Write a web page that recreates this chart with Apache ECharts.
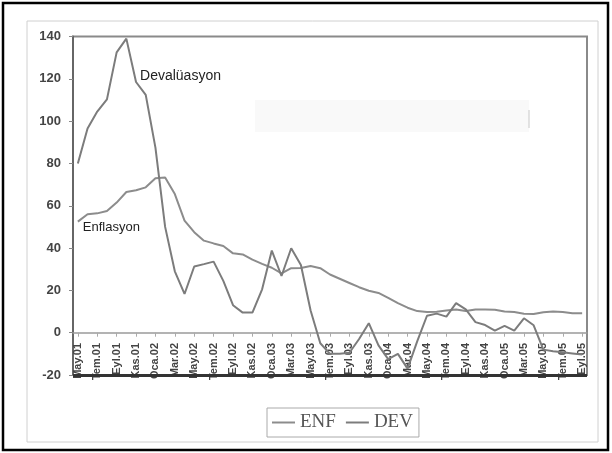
<!DOCTYPE html>
<html>
<head>
<meta charset="utf-8">
<script src="https://cdn.jsdelivr.net/npm/echarts@6/dist/echarts.min.js"></script>
<style>
html,body{margin:0;padding:0;background:#fff;}
#chart{width:612px;height:453px;}
</style>
</head>
<body>
<div id="chart"></div>
<script>
// Categories: monthly, May 2001 .. Eylül 2005
var months = [
 'May.01','Haz.01','Tem.01','Ağu.01','Eyl.01','Eki.01','Kas.01','Ara.01',
 'Oca.02','Şub.02','Mar.02','Nis.02','May.02','Haz.02','Tem.02','Ağu.02','Eyl.02','Eki.02','Kas.02','Ara.02',
 'Oca.03','Şub.03','Mar.03','Nis.03','May.03','Haz.03','Tem.03','Ağu.03','Eyl.03','Eki.03','Kas.03','Ara.03',
 'Oca.04','Şub.04','Mar.04','Nis.04','May.04','Haz.04','Tem.04','Ağu.04','Eyl.04','Eki.04','Kas.04','Ara.04',
 'Oca.05','Şub.05','Mar.05','Nis.05','May.05','Haz.05','Tem.05','Ağu.05','Eyl.05'
];
// ENF (Enflasyon)
var enf = [
 52.5, 56, 56.4, 57.5, 61.5, 66.5, 67.3, 68.7,
 73, 73.3, 65.5, 53, 47.5, 43.5, 42.2, 41, 37.5, 37, 34.5, 32.5,
 30.7, 28, 30.5, 30.6, 31.5, 30.5, 27.5, 25.5, 23.5, 21.5, 19.8, 18.8,
 16.5, 14, 11.8, 10.2, 9.8, 9.9, 10.5, 11, 10.2, 11, 11, 10.8,
 10, 9.8, 9, 8.8, 9.7, 10, 9.8, 9.2, 9.2
];
// DEV (Devalüasyon)
var dev = [
 80, 96.5, 104.5, 110.3, 132.5, 139, 118.5, 112.4,
 87.5, 50, 29, 18.3, 31.3, 32.4, 33.6, 24.5, 13, 9.5, 9.5, 20.5,
 38.8, 26.8, 39.9, 32, 10.5, -5, -10, -10, -9.5, -3, 4.5, -6,
 -12.5, -10, -17, -4, 8, 9, 7.6, 14, 11, 5, 3.6, 1,
 3.2, 1, 6.8, 3.5, -8, -8.8, -9.3, -9.8, -10.3
];
var yMin = -20, yMax = 140, yStep = 20;
var seriesNames = ['ENF', 'DEV'];
var annotations = [
 {text: 'Devalüasyon', cat: 6, val: 121.4},
 {text: 'Enflasyon', cat: 0, val: 49.7}
];

var chart = echarts.init(document.getElementById('chart'), null, {renderer: 'canvas'});
var sans = 'Liberation Sans, Arial, sans-serif';
var option = {
  animation: false,
  backgroundColor: '#fff',
  graphic: [
    {type: 'rect', shape: {x: 3, y: 3, width: 605, height: 447}, style: {fill: 'none', stroke: '#000', lineWidth: 2.5}, z: 0},
    {type: 'rect', shape: {x: 27, y: 21, width: 571, height: 421}, style: {fill: 'none', stroke: '#d0d0d0', lineWidth: 1}, z: 0},
    {type: 'rect', shape: {x: 255, y: 100, width: 274, height: 32}, style: {fill: '#f9f9f9', stroke: 'none'}, z: 0},
    {type: 'line', shape: {x1: 529, y1: 110, x2: 529, y2: 128}, style: {stroke: '#c8c8c8', lineWidth: 1}, z: 0}
  ],
  grid: {left: 73, right: 25, top: 36.5, bottom: 78, show: true, borderColor: '#8a8a8a', borderWidth: 2},
  legend: {
    left: 267, top: 408, orient: 'horizontal',
    icon: 'rect', itemWidth: 23, itemHeight: 2, itemGap: 10,
    padding: [5, 6, 5, 5],
    borderColor: '#aaa', borderWidth: 1,
    textStyle: {fontFamily: 'Liberation Serif, Times New Roman, serif', fontSize: 19, color: '#555'},
    data: seriesNames
  },
  xAxis: {
    type: 'category', data: months, boundaryGap: true,
    axisLine: {onZero: true, lineStyle: {color: '#9a9a9a', width: 1.5}},
    axisTick: {show: true, interval: 1, alignWithLabel: true, length: 4, lineStyle: {color: '#aaa'}},
    axisLabel: {interval: 1, rotate: 90, fontSize: 11, fontWeight: 'bold', color: '#444', margin: -32, fontFamily: sans}
  },
  yAxis: {
    type: 'value', min: yMin, max: yMax, interval: yStep,
    axisLine: {show: true, lineStyle: {color: '#666', width: 2}},
    axisTick: {show: true, length: 4, lineStyle: {color: '#888'}},
    splitLine: {show: false},
    axisLabel: {fontSize: 13, fontWeight: 'bold', color: '#444', margin: 12, fontFamily: sans}
  },
  series: [
    {
      name: seriesNames[0], type: 'line', data: enf, symbol: 'none',
      lineStyle: {color: '#8c8c8c', width: 2}, itemStyle: {color: '#8c8c8c'},
      markPoint: {
        symbol: 'circle', symbolSize: 0,
        label: {show: true, position: 'right', distance: 5, formatter: function(p){return p.name;}, fontFamily: sans, fontSize: 13, color: '#222'},
        data: [{name: annotations[1].text, coord: [annotations[1].cat, annotations[1].val]}]
      },
      markLine: {
        silent: true, symbol: 'none', animation: false,
        label: {show: false},
        lineStyle: {color: '#333', width: 3, type: 'solid'},
        data: [{yAxis: yMin}]
      }
    },
    {
      name: seriesNames[1], type: 'line', data: dev, symbol: 'none',
      lineStyle: {color: '#7c7c7c', width: 2}, itemStyle: {color: '#7c7c7c'},
      markPoint: {
        symbol: 'circle', symbolSize: 0,
        label: {show: true, position: 'right', distance: 4, formatter: function(p){return p.name;}, fontFamily: sans, fontSize: 14, color: '#222'},
        data: [{name: annotations[0].text, coord: [annotations[0].cat, annotations[0].val]}]
      }
    }
  ]
};
chart.setOption(option);
</script>
</body>
</html>
